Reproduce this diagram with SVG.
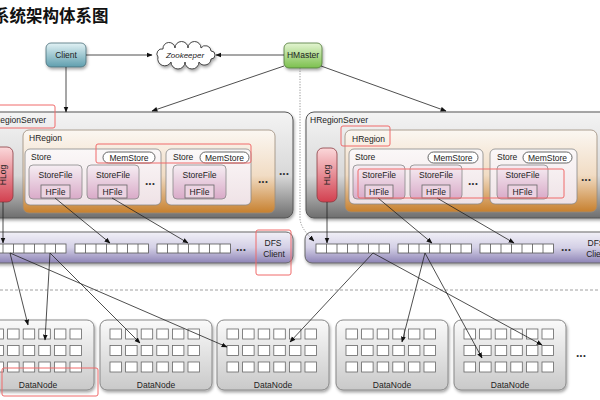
<svg xmlns="http://www.w3.org/2000/svg" width="600" height="400" viewBox="0 0 600 400">
<defs>
<linearGradient id="gClient" x1="0" y1="0" x2="0" y2="1"><stop offset="0" stop-color="#e2f2f5"/><stop offset="1" stop-color="#5f9eae"/></linearGradient>
<linearGradient id="gMaster" x1="0" y1="0" x2="0" y2="1"><stop offset="0" stop-color="#e4f5d2"/><stop offset="1" stop-color="#7cc04e"/></linearGradient>
<linearGradient id="gHRS" x1="0" y1="0" x2="0" y2="1"><stop offset="0" stop-color="#f4f4f4"/><stop offset="0.6" stop-color="#d8d8d8"/><stop offset="1" stop-color="#6e6e6e"/></linearGradient>
<linearGradient id="gRegion" x1="0" y1="0" x2="0" y2="1"><stop offset="0" stop-color="#fbf7f2"/><stop offset="0.55" stop-color="#f1dcc4"/><stop offset="1" stop-color="#c7802e"/></linearGradient>
<linearGradient id="gStore" x1="0" y1="0" x2="0" y2="1"><stop offset="0" stop-color="#fbf8f8"/><stop offset="1" stop-color="#efe2e6"/></linearGradient>
<linearGradient id="gSF" x1="0" y1="0" x2="0" y2="1"><stop offset="0" stop-color="#f6eef3"/><stop offset="1" stop-color="#d9aac8"/></linearGradient>
<linearGradient id="gLog" x1="0" y1="0" x2="0" y2="1"><stop offset="0" stop-color="#fbd8da"/><stop offset="1" stop-color="#d2404f"/></linearGradient>
<linearGradient id="gDFS" x1="0" y1="0" x2="0" y2="1"><stop offset="0" stop-color="#f1f0f7"/><stop offset="0.5" stop-color="#d4d0e6"/><stop offset="1" stop-color="#8e84b6"/></linearGradient>
<linearGradient id="gDN" x1="0" y1="0" x2="0" y2="1"><stop offset="0" stop-color="#fafafa"/><stop offset="1" stop-color="#c9c9c9"/></linearGradient>
<filter id="sh" x="-10%" y="-10%" width="130%" height="140%"><feDropShadow dx="1" dy="2" stdDeviation="1.5" flood-color="#000" flood-opacity="0.35"/></filter>
<marker id="arr" viewBox="0 0 10 10" refX="9" refY="5" markerWidth="6" markerHeight="6" orient="auto" markerUnits="userSpaceOnUse"><path d="M0,1 L10,5 L0,9 z" fill="#111"/></marker>
<g id="cellrow"><rect x="0" y="0" width="11.5" height="10"/><rect x="15.6" y="0" width="11.5" height="10"/><rect x="31.2" y="0" width="11.5" height="10"/><rect x="46.8" y="0" width="11.5" height="10"/><rect x="62.4" y="0" width="11.5" height="10"/><rect x="78" y="0" width="11.5" height="10"/></g>
<g id="grid"><use href="#cellrow" y="0"/><use href="#cellrow" y="16.5"/><use href="#cellrow" y="33"/></g>
<g id="blk"><rect x="0" y="0" width="73.5" height="9"/><line x1="10.5" y1="0" x2="10.5" y2="9"/><line x1="21" y1="0" x2="21" y2="9"/><line x1="31.5" y1="0" x2="31.5" y2="9"/><line x1="42" y1="0" x2="42" y2="9"/><line x1="52.5" y1="0" x2="52.5" y2="9"/><line x1="63" y1="0" x2="63" y2="9"/></g>
</defs>
<style>
text{font-family:"Liberation Sans",Arial,sans-serif;font-size:8.5px;fill:#222}
.c{text-anchor:middle}
.dots{font-size:12px;font-weight:bold;fill:#333;text-anchor:middle}
.hrs{fill:url(#gHRS);stroke:#555;stroke-width:1}
.reg{fill:url(#gRegion);stroke:#9a8a7a;stroke-width:0.8}
.store{fill:url(#gStore);stroke:#888;stroke-width:0.8}
.sf{fill:url(#gSF);stroke:#888;stroke-width:0.8}
.hf{fill:#ecd3e2;stroke:#666;stroke-width:0.8}
.mem{fill:#fff;stroke:#555;stroke-width:0.9}
.log{fill:url(#gLog);stroke:#8a3a40;stroke-width:0.8}
.dfs{fill:url(#gDFS);stroke:#666;stroke-width:1}
.blk{fill:#fff;stroke:#555;stroke-width:0.8}
.dn{fill:url(#gDN);stroke:#888;stroke-width:1}
.cell{fill:#fff;stroke:#666;stroke-width:0.8}
.hl{fill:none;stroke:#f06b6b;stroke-width:1}
.cn{stroke:#222;stroke-width:0.8;fill:none}
</style>
<rect x="0" y="0" width="600" height="400" fill="#fff"/>
<text x="-7" y="22" style="font-family:'Noto Sans CJK SC',sans-serif;font-size:16.5px;font-weight:bold;fill:#111">系统架构体系图</text>

<g id="client"><rect x="46" y="43" width="40" height="24" rx="5" fill="url(#gClient)" stroke="#4a6e78" stroke-width="0.8" filter="url(#sh)"/><text x="66" y="58" class="c">Client</text></g>
<g id="zookeeper"><path d="M158,57 A5,5 0 0 1 163,49 A6,6 0 0 1 175,48 A6.5,6.5 0 0 1 188,48 A6.5,6.5 0 0 1 201,48 A5.5,5.5 0 0 1 211,51 A4,4 0 0 1 211,59 A6.5,6.5 0 0 1 199,62 A7,7 0 0 1 185,62 A7,7 0 0 1 171,62 A7,7 0 0 1 158,57 z" fill="#fff" stroke="#333" stroke-width="0.9" filter="url(#sh)"/><text x="185" y="58" class="c" style="font-size:8px;font-style:italic">Zookeeper</text></g>
<g id="hmaster"><rect x="284" y="43" width="38" height="25" rx="5" fill="url(#gMaster)" stroke="#4f7a37" stroke-width="0.8" filter="url(#sh)"/><text x="303" y="58" class="c">HMaster</text></g>

<g id="hregionserver-left">
<rect class="hrs" x="-20" y="112" width="313" height="106" rx="8" filter="url(#sh)"/>
<text x="-12" y="123">HRegionServer</text>
<rect class="log" x="-10" y="147" width="23" height="55" rx="6"/>
<text transform="translate(6,175) rotate(-90)" class="c">HLog</text>
<g id="hregion-left">
<rect class="reg" x="23" y="130" width="252" height="83" rx="6"/>
<text x="29" y="141">HRegion</text>
<g id="store-l1"><rect class="store" x="25" y="149" width="136" height="56" rx="5"/><text x="31" y="160">Store</text>
<rect class="mem" x="103" y="152" width="52" height="11" rx="5.5"/><text x="129" y="160.5" class="c">MemStore</text>
<rect class="sf" x="29" y="165" width="53" height="34" rx="4"/><text x="55.5" y="178" class="c">StoreFile</text><rect class="hf" x="41" y="185" width="29" height="13"/><text x="55.5" y="195" class="c">HFile</text>
<rect class="sf" x="87" y="165" width="52" height="34" rx="4"/><text x="113" y="178" class="c">StoreFile</text><rect class="hf" x="98" y="185" width="29" height="13"/><text x="112.5" y="195" class="c">HFile</text>
<text x="150" y="185" class="dots">...</text></g>
<g id="store-l2"><rect class="store" x="166" y="149" width="85" height="56" rx="5"/><text x="173" y="160">Store</text>
<rect class="mem" x="200" y="152" width="49" height="11" rx="5.5"/><text x="224.5" y="160.5" class="c">MemStore</text>
<rect class="sf" x="173" y="165" width="53" height="34" rx="4"/><text x="199.5" y="178" class="c">StoreFile</text><rect class="hf" x="185" y="185" width="29" height="13"/><text x="199.5" y="195" class="c">HFile</text></g>
<text x="263" y="183" class="dots">...</text>
</g>
<text x="284" y="175" class="dots">...</text>
</g>

<g id="hregionserver-right">
<rect class="hrs" x="306" y="112" width="312" height="106" rx="8" filter="url(#sh)"/>
<text x="310" y="123">HRegionServer</text>
<rect class="log" x="317" y="148" width="20" height="54" rx="6"/>
<text transform="translate(330,175) rotate(-90)" class="c">HLog</text>
<g id="hregion-right">
<rect class="reg" x="345" y="130" width="252" height="82" rx="6"/>
<text x="352" y="142">HRegion</text>
<g id="store-r1"><rect class="store" x="349" y="149" width="134" height="55" rx="5"/><text x="355" y="160">Store</text>
<rect class="mem" x="428" y="152" width="50" height="11" rx="5.5"/><text x="453" y="160.5" class="c">MemStore</text>
<rect class="sf" x="353" y="165" width="52" height="34" rx="4"/><text x="379" y="178" class="c">StoreFile</text><rect class="hf" x="365" y="185" width="28" height="13"/><text x="379" y="195" class="c">HFile</text>
<rect class="sf" x="410" y="165" width="52" height="34" rx="4"/><text x="436" y="178" class="c">StoreFile</text><rect class="hf" x="422" y="185" width="28" height="13"/><text x="436" y="195" class="c">HFile</text>
<text x="473" y="185" class="dots">...</text></g>
<g id="store-r2"><rect class="store" x="490" y="149" width="87" height="55" rx="5"/><text x="497" y="160">Store</text>
<rect class="mem" x="523" y="152" width="49" height="11" rx="5.5"/><text x="547.5" y="160.5" class="c">MemStore</text>
<rect class="sf" x="497" y="165" width="51" height="34" rx="4"/><text x="522.5" y="178" class="c">StoreFile</text><rect class="hf" x="508" y="185" width="29" height="13"/><text x="522.5" y="195" class="c">HFile</text></g>
<text x="586" y="181" class="dots">...</text>
</g>
</g>

<g id="dfs-left">
<rect class="dfs" x="-20" y="232" width="313" height="31" rx="7" filter="url(#sh)"/>
<g class="blk"><use href="#blk" x="-7.5" y="244"/><use href="#blk" x="75" y="244"/><use href="#blk" x="157" y="244"/></g>
<text x="241" y="251" class="dots">...</text>
<text x="273" y="246" class="c">DFS</text><text x="274" y="257" class="c">Client</text>
</g>
<g id="dfs-right">
<rect class="dfs" x="305" y="232" width="313" height="31" rx="7" filter="url(#sh)"/>
<g class="blk"><use href="#blk" x="316" y="244"/><use href="#blk" x="398" y="244"/><use href="#blk" x="480" y="244"/></g>
<text x="566" y="251" class="dots">...</text>
<text x="596" y="246" class="c">DFS</text><text x="597" y="257" class="c">Client</text>
</g>

<line x1="0" y1="290" x2="600" y2="290" stroke="#888" stroke-width="0.8" stroke-dasharray="3,2"/>

<g id="datanode-1"><rect class="dn" x="-18" y="320" width="112" height="70" rx="7" filter="url(#sh)"/><use href="#grid" x="-8" y="329" class="cell"/><text x="38" y="388" class="c">DataNode</text></g>
<g id="datanode-2"><rect class="dn" x="100" y="320" width="112" height="70" rx="7" filter="url(#sh)"/><use href="#grid" x="110" y="329" class="cell"/><text x="156" y="388" class="c">DataNode</text></g>
<g id="datanode-3"><rect class="dn" x="217" y="320" width="112" height="70" rx="7" filter="url(#sh)"/><use href="#grid" x="227" y="329" class="cell"/><text x="273" y="388" class="c">DataNode</text></g>
<g id="datanode-4"><rect class="dn" x="336" y="320" width="112" height="70" rx="7" filter="url(#sh)"/><use href="#grid" x="346" y="329" class="cell"/><text x="392" y="388" class="c">DataNode</text></g>
<g id="datanode-5"><rect class="dn" x="454" y="320" width="112" height="70" rx="7" filter="url(#sh)"/><use href="#grid" x="464" y="329" class="cell"/><text x="510" y="388" class="c">DataNode</text></g>
<text x="581" y="357" class="dots">...</text>

<g id="connectors" class="cn" marker-end="url(#arr)">
<line x1="86" y1="55" x2="152" y2="55"/>
<line x1="284" y1="55" x2="216" y2="55"/>
<line x1="66" y1="67" x2="66" y2="112"/>
<line x1="284" y1="66" x2="152" y2="111"/>
<line x1="321" y1="66" x2="446" y2="111"/>
<path d="M300,68 V218 Q300,228 314,241" stroke-dasharray="1.2,1.5" stroke="#777"/>
<line x1="3" y1="202" x2="3" y2="243"/>
<line x1="327" y1="202" x2="327" y2="243"/>
<line x1="55" y1="198" x2="110" y2="243"/>
<line x1="112" y1="198" x2="188" y2="243"/>
<line x1="378" y1="198" x2="432" y2="243"/>
<line x1="437" y1="198" x2="514" y2="243"/>
<line x1="10" y1="253" x2="28" y2="325"/>
<line x1="10" y1="253" x2="227" y2="347"/>
<line x1="50" y1="253" x2="45" y2="340"/>
<line x1="50" y1="253" x2="140" y2="343"/>
<line x1="373" y1="253" x2="290" y2="342"/>
<line x1="373" y1="253" x2="542" y2="345"/>
<line x1="425" y1="253" x2="402" y2="342"/>
<line x1="425" y1="253" x2="482" y2="358"/>
</g>

<g id="highlights">
<rect class="hl" x="-5" y="105" width="60" height="23" rx="2"/>
<rect class="hl" x="96" y="144" width="155" height="19" rx="2"/>
<rect class="hl" x="341" y="126" width="49" height="20" rx="2"/>
<rect class="hl" x="358" y="169" width="206" height="29" rx="2"/>
<rect class="hl" x="256" y="230" width="35" height="45" rx="2"/>
<rect class="hl" x="2" y="368" width="96" height="28" rx="2"/>
</g>
</svg>
